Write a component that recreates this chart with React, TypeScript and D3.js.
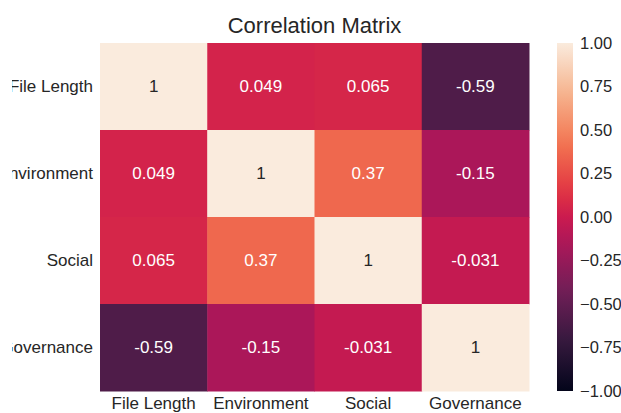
import React from "react";
import * as d3 from "d3";

const labels = ["File Length", "Environment", "Social", "Governance"];
const matrix: number[][] = [
  [1, 0.049, 0.065, -0.59],
  [0.049, 1, 0.37, -0.15],
  [0.065, 0.37, 1, -0.031],
  [-0.59, -0.15, -0.031, 1],
];
const cbarTicks = [-1, -0.75, -0.5, -0.25, 0, 0.25, 0.5, 0.75, 1];
const rocketStops = [0, 0.143, 0.286, 0.429, 0.5, 0.571, 0.714, 0.857, 1];
const rocketColors = [
  "#03051a", "#35193e", "#701f57", "#ad1759", "#cb1b4f",
  "#e13342", "#f37651", "#f6b48f", "#faebdd",
];
const title = "Correlation Matrix";

const W = 621, H = 413;
const left = 100, right = 529, top = 43, bottom = 391;
const font = "'Liberation Sans', Arial, sans-serif";
const textColor = "#262626";

export default function App() {
  const x = d3.scaleBand<string>().domain(labels).range([left, right]);
  const y = d3.scaleBand<string>().domain(labels).range([top, bottom]);
  const t = d3.scaleLinear().domain([-1, 1]).range([0, 1]);
  const rocket = d3.scaleLinear<string>().domain(rocketStops).range(rocketColors).interpolate(d3.interpolateRgb);
  const color = (v: number) => rocket(t(v));
  const cb = d3.scaleLinear().domain([-1, 1]).range([bottom, top]);
  const fmt = d3.format(".2f");
  const lum = (c: string) => {
    const rgb = d3.rgb(c);
    const f = (u: number) => { u /= 255; return u <= 0.03928 ? u / 12.92 : Math.pow((u + 0.055) / 1.055, 2.4); };
    return 0.2126 * f(rgb.r) + 0.7152 * f(rgb.g) + 0.0722 * f(rgb.b);
  };
  const gradStops = d3.range(0, 1.0001, 0.05);

  return (
    <svg width={W} height={H} style={{ position: "absolute", left: 0, top: 0, background: "#fff" }} fontFamily={font}>
      <defs>
        <linearGradient id="rocket" x1="0" y1="1" x2="0" y2="0">
          {gradStops.map((s) => (
            <stop key={s} offset={s} stopColor={rocket(s)} />
          ))}
        </linearGradient>
        <clipPath id="leftcrop">
          <rect x={12} y={0} width={W - 12} height={H} />
        </clipPath>
      </defs>
      <rect width={W} height={H} fill="#fff" />
      <text x={(left + right) / 2} y={33} textAnchor="middle" fontSize={22} fill={textColor}>{title}</text>
      {matrix.map((row, i) =>
        row.map((v, j) => {
          const c = color(v);
          return (
            <g key={`${i}-${j}`}>
              <rect x={x(labels[j])!} y={y(labels[i])!} width={x.bandwidth() + 0.5} height={y.bandwidth() + 0.5} fill={c} />
              <text
                x={x(labels[j])! + x.bandwidth() / 2}
                y={y(labels[i])! + y.bandwidth() / 2}
                dy="0.35em"
                textAnchor="middle"
                fontSize={17}
                fill={lum(c) > 0.408 ? textColor : "#ffffff"}
              >
                {String(v)}
              </text>
            </g>
          );
        })
      )}
      <g clipPath="url(#leftcrop)">
        {labels.map((l) => (
          <text key={"y" + l} x={93} y={y(l)! + y.bandwidth() / 2} dy="0.35em" textAnchor="end" fontSize={17} fill={textColor}>{l}</text>
        ))}
      </g>
      {labels.map((l) => (
        <text key={"x" + l} x={x(l)! + x.bandwidth() / 2} y={409} textAnchor="middle" fontSize={17} fill={textColor}>{l}</text>
      ))}
      <rect x={557} y={top} width={16} height={bottom - top} fill="url(#rocket)" />
      {cbarTicks.map((v) => (
        <text key={"c" + v} x={580} y={cb(v)} dy="0.35em" fontSize={16.5} fill={textColor}>{fmt(v)}</text>
      ))}
    </svg>
  );
}
